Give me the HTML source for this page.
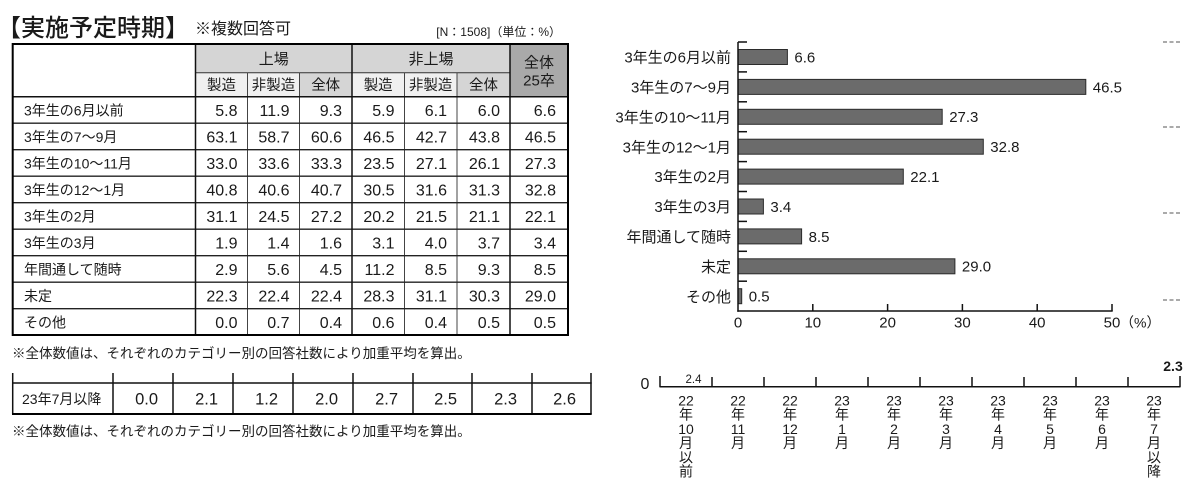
<!DOCTYPE html>
<html><head><meta charset="utf-8">
<style>
html,body{margin:0;padding:0;background:#fff;width:1200px;height:499px;overflow:hidden}
svg{display:block}
text{font-family:"Liberation Sans","Noto Sans CJK JP",sans-serif;fill:#1a1a1a}
.n{font-size:16px;text-anchor:end}
.l{font-size:14px}
.h{font-size:15px;text-anchor:middle}
.cl{font-size:15px;text-anchor:end}
.v{font-size:15px}
.t{font-size:15px;text-anchor:middle}
.vl{font-size:14px;text-anchor:middle}
</style></head>
<body>
<svg width="1200" height="499" viewBox="0 0 1200 499" xmlns="http://www.w3.org/2000/svg">
<!-- Title -->
<text x="-3" y="36" style="font-size:24px;font-weight:500">【実施予定時期】</text>
<text x="195" y="34" style="font-size:16px">※複数回答可</text>
<text x="561" y="36" style="font-size:12px;text-anchor:end">[N：1508]（単位：%）</text>

<!-- Top table fills -->
<rect x="195.5" y="44" width="314.5" height="28.7" fill="#d5d5d5"/>
<rect x="195.5" y="72.7" width="104" height="24" fill="#f0f0f0"/>
<rect x="352" y="72.7" width="105" height="24" fill="#f0f0f0"/>
<rect x="299.5" y="72.7" width="52.5" height="24" fill="#d5d5d5"/>
<rect x="457" y="72.7" width="53" height="24" fill="#d5d5d5"/>
<rect x="510" y="44" width="58" height="52.7" fill="#a9a9a9"/>

<!-- Top table lines -->
<g stroke="#333" stroke-width="1">
<line x1="195.5" y1="72.7" x2="510" y2="72.7"/>
</g>
<g stroke="#444" stroke-width="1">
<line x1="247.5" y1="72.7" x2="247.5" y2="335"/>
<line x1="299.5" y1="72.7" x2="299.5" y2="335"/>
<line x1="404.5" y1="72.7" x2="404.5" y2="335"/>
<line x1="457" y1="72.7" x2="457" y2="335"/>
</g>
<g stroke="#222" stroke-width="1.3">
<line x1="12.7" y1="123.2" x2="568" y2="123.2"/>
<line x1="12.7" y1="149.7" x2="568" y2="149.7"/>
<line x1="12.7" y1="176.2" x2="568" y2="176.2"/>
<line x1="12.7" y1="202.7" x2="568" y2="202.7"/>
<line x1="12.7" y1="229.2" x2="568" y2="229.2"/>
<line x1="12.7" y1="255.7" x2="568" y2="255.7"/>
<line x1="12.7" y1="282.2" x2="568" y2="282.2"/>
<line x1="12.7" y1="308.7" x2="568" y2="308.7"/>
</g>
<g stroke="#111" stroke-width="1.5">
<line x1="12.7" y1="96.7" x2="568" y2="96.7"/>
<line x1="195.5" y1="44" x2="195.5" y2="335"/>
<line x1="352" y1="44" x2="352" y2="335"/>
<line x1="510" y1="44" x2="510" y2="335"/>
</g>
<rect x="12.7" y="44" width="555.3" height="291" fill="none" stroke="#000" stroke-width="2"/>

<!-- Header text -->
<text class="h" x="273.8" y="64">上場</text>
<text class="h" x="431" y="64">非上場</text>
<text class="h" x="221.5" y="90.2" style="font-size:14.5px">製造</text>
<text class="h" x="273.5" y="90.2" style="font-size:14.5px">非製造</text>
<text class="h" x="325.7" y="90.2" style="font-size:14.5px">全体</text>
<text class="h" x="378.2" y="90.2" style="font-size:14.5px">製造</text>
<text class="h" x="430.7" y="90.2" style="font-size:14.5px">非製造</text>
<text class="h" x="483.5" y="90.2" style="font-size:14.5px">全体</text>
<text class="h" x="539" y="67.5">全体</text>
<text class="h" x="539" y="85.5">25卒</text>

<!-- Data rows -->
<g>
<text class="l" x="24" y="115.3">3年生の6月以前</text>
<text class="n" x="237.5" y="115.8">5.8</text><text class="n" x="289.5" y="115.8">11.9</text><text class="n" x="342" y="115.8">9.3</text><text class="n" x="394.5" y="115.8">5.9</text><text class="n" x="447" y="115.8">6.1</text><text class="n" x="500" y="115.8">6.0</text><text class="n" x="556" y="115.8">6.6</text>

<text class="l" x="24" y="141.8">3年生の7～9月</text>
<text class="n" x="237.5" y="142.3">63.1</text><text class="n" x="289.5" y="142.3">58.7</text><text class="n" x="342" y="142.3">60.6</text><text class="n" x="394.5" y="142.3">46.5</text><text class="n" x="447" y="142.3">42.7</text><text class="n" x="500" y="142.3">43.8</text><text class="n" x="556" y="142.3">46.5</text>

<text class="l" x="24" y="168.3">3年生の10～11月</text>
<text class="n" x="237.5" y="168.8">33.0</text><text class="n" x="289.5" y="168.8">33.6</text><text class="n" x="342" y="168.8">33.3</text><text class="n" x="394.5" y="168.8">23.5</text><text class="n" x="447" y="168.8">27.1</text><text class="n" x="500" y="168.8">26.1</text><text class="n" x="556" y="168.8">27.3</text>

<text class="l" x="24" y="194.8">3年生の12～1月</text>
<text class="n" x="237.5" y="195.3">40.8</text><text class="n" x="289.5" y="195.3">40.6</text><text class="n" x="342" y="195.3">40.7</text><text class="n" x="394.5" y="195.3">30.5</text><text class="n" x="447" y="195.3">31.6</text><text class="n" x="500" y="195.3">31.3</text><text class="n" x="556" y="195.3">32.8</text>

<text class="l" x="24" y="221.3">3年生の2月</text>
<text class="n" x="237.5" y="221.8">31.1</text><text class="n" x="289.5" y="221.8">24.5</text><text class="n" x="342" y="221.8">27.2</text><text class="n" x="394.5" y="221.8">20.2</text><text class="n" x="447" y="221.8">21.5</text><text class="n" x="500" y="221.8">21.1</text><text class="n" x="556" y="221.8">22.1</text>

<text class="l" x="24" y="247.8">3年生の3月</text>
<text class="n" x="237.5" y="248.3">1.9</text><text class="n" x="289.5" y="248.3">1.4</text><text class="n" x="342" y="248.3">1.6</text><text class="n" x="394.5" y="248.3">3.1</text><text class="n" x="447" y="248.3">4.0</text><text class="n" x="500" y="248.3">3.7</text><text class="n" x="556" y="248.3">3.4</text>

<text class="l" x="24" y="274.3">年間通して随時</text>
<text class="n" x="237.5" y="274.8">2.9</text><text class="n" x="289.5" y="274.8">5.6</text><text class="n" x="342" y="274.8">4.5</text><text class="n" x="394.5" y="274.8">11.2</text><text class="n" x="447" y="274.8">8.5</text><text class="n" x="500" y="274.8">9.3</text><text class="n" x="556" y="274.8">8.5</text>

<text class="l" x="24" y="300.8">未定</text>
<text class="n" x="237.5" y="301.3">22.3</text><text class="n" x="289.5" y="301.3">22.4</text><text class="n" x="342" y="301.3">22.4</text><text class="n" x="394.5" y="301.3">28.3</text><text class="n" x="447" y="301.3">31.1</text><text class="n" x="500" y="301.3">30.3</text><text class="n" x="556" y="301.3">29.0</text>

<text class="l" x="24" y="327.3">その他</text>
<text class="n" x="237.5" y="327.8">0.0</text><text class="n" x="289.5" y="327.8">0.7</text><text class="n" x="342" y="327.8">0.4</text><text class="n" x="394.5" y="327.8">0.6</text><text class="n" x="447" y="327.8">0.4</text><text class="n" x="500" y="327.8">0.5</text><text class="n" x="556" y="327.8">0.5</text>
</g>

<text x="12" y="358" style="font-size:13.5px">※全体数値は、それぞれのカテゴリー別の回答社数により加重平均を算出。</text>

<!-- Bottom table -->
<g stroke="#111" stroke-width="1.5">
<line x1="12.7" y1="373" x2="12.7" y2="414"/>
<line x1="113" y1="373" x2="113" y2="414"/>
<line x1="173" y1="373" x2="173" y2="414"/>
<line x1="233" y1="373" x2="233" y2="414"/>
<line x1="293" y1="373" x2="293" y2="414"/>
<line x1="353" y1="373" x2="353" y2="414"/>
<line x1="413" y1="373" x2="413" y2="414"/>
<line x1="472" y1="373" x2="472" y2="414"/>
<line x1="532" y1="373" x2="532" y2="414"/>
<line x1="591" y1="373" x2="591" y2="414"/>
<line x1="12" y1="383" x2="591.7" y2="383"/>
</g>
<line x1="12" y1="414" x2="591.7" y2="414" stroke="#000" stroke-width="2"/>
<text class="l" x="22" y="403.8">23年7月以降</text>
<g style="font-size:16.5px;text-anchor:end">
<text x="158" y="404.5">0.0</text><text x="218" y="404.5">2.1</text><text x="278" y="404.5">1.2</text><text x="338" y="404.5">2.0</text><text x="398" y="404.5">2.7</text><text x="457" y="404.5">2.5</text><text x="517" y="404.5">2.3</text><text x="576" y="404.5">2.6</text>
</g>
<text x="12" y="436" style="font-size:13.5px">※全体数値は、それぞれのカテゴリー別の回答社数により加重平均を算出。</text>

<!-- Bar chart -->
<g fill="#6b6b6b" stroke="#2b2b2b" stroke-width="1">
<rect x="738" y="49.5" width="49.4" height="15"/>
<rect x="738" y="79.4" width="347.8" height="15"/>
<rect x="738" y="109.3" width="204.2" height="15"/>
<rect x="738" y="139.2" width="245.3" height="15"/>
<rect x="738" y="169.1" width="165.3" height="15"/>
<rect x="738" y="199" width="25.4" height="15"/>
<rect x="738" y="228.9" width="63.6" height="15"/>
<rect x="738" y="258.8" width="216.9" height="15"/>
<rect x="738" y="288.7" width="3.7" height="15"/>
</g>
<g stroke="#111" stroke-width="1.5">
<line x1="738" y1="42" x2="738" y2="311.7"/>
<line x1="737.3" y1="311" x2="1112.7" y2="311"/>
<line x1="738" y1="42" x2="747" y2="42"/>
<line x1="738" y1="71.9" x2="747" y2="71.9"/>
<line x1="738" y1="101.8" x2="747" y2="101.8"/>
<line x1="738" y1="131.7" x2="747" y2="131.7"/>
<line x1="738" y1="161.6" x2="747" y2="161.6"/>
<line x1="738" y1="191.5" x2="747" y2="191.5"/>
<line x1="738" y1="221.4" x2="747" y2="221.4"/>
<line x1="738" y1="251.3" x2="747" y2="251.3"/>
<line x1="738" y1="281.2" x2="747" y2="281.2"/>
<line x1="812.8" y1="304" x2="812.8" y2="311"/>
<line x1="887.6" y1="304" x2="887.6" y2="311"/>
<line x1="962.4" y1="304" x2="962.4" y2="311"/>
<line x1="1037.2" y1="304" x2="1037.2" y2="311"/>
<line x1="1112" y1="304" x2="1112" y2="311"/>
</g>
<text class="cl" x="731" y="62.6">3年生の6月以前</text>
<text class="cl" x="731" y="92.5">3年生の7～9月</text>
<text class="cl" x="731" y="122.4">3年生の10～11月</text>
<text class="cl" x="731" y="152.3">3年生の12～1月</text>
<text class="cl" x="731" y="182.2">3年生の2月</text>
<text class="cl" x="731" y="212.1">3年生の3月</text>
<text class="cl" x="731" y="242">年間通して随時</text>
<text class="cl" x="731" y="271.9">未定</text>
<text class="cl" x="731" y="301.8">その他</text>

<text class="v" x="794.4" y="62.4">6.6</text>
<text class="v" x="1092.8" y="92.3">46.5</text>
<text class="v" x="949.2" y="122.2">27.3</text>
<text class="v" x="990.3" y="152.1">32.8</text>
<text class="v" x="910.3" y="182">22.1</text>
<text class="v" x="770.4" y="211.9">3.4</text>
<text class="v" x="808.6" y="241.8">8.5</text>
<text class="v" x="961.9" y="271.7">29.0</text>
<text class="v" x="748.7" y="301.6">0.5</text>

<text class="t" x="738" y="327.5">0</text>
<text class="t" x="812.8" y="327.5">10</text>
<text class="t" x="887.6" y="327.5">20</text>
<text class="t" x="962.4" y="327.5">30</text>
<text class="t" x="1037.2" y="327.5">40</text>
<text class="t" x="1112" y="327.5">50</text>
<text x="1120" y="327.5" style="font-size:14px">（%）</text>

<!-- right dashes -->
<g stroke="#555" stroke-width="1" stroke-dasharray="4 2.5">
<line x1="1163" y1="42" x2="1181" y2="42"/>
<line x1="1163" y1="127" x2="1181" y2="127"/>
<line x1="1163" y1="213" x2="1181" y2="213"/>
<line x1="1163" y1="300" x2="1181" y2="300"/>
</g>

<!-- Bottom timeline -->
<text x="645" y="389" style="font-size:16px;text-anchor:middle">0</text>
<g stroke="#111" stroke-width="1.5">
<line x1="659.5" y1="386.7" x2="1180.5" y2="386.7"/>
<line x1="660" y1="376" x2="660" y2="387"/>
<line x1="712" y1="377" x2="712" y2="387"/>
<line x1="764" y1="377" x2="764" y2="387"/>
<line x1="816" y1="377" x2="816" y2="387"/>
<line x1="868" y1="377" x2="868" y2="387"/>
<line x1="920" y1="377" x2="920" y2="387"/>
<line x1="972" y1="377" x2="972" y2="387"/>
<line x1="1024" y1="377" x2="1024" y2="387"/>
<line x1="1076" y1="377" x2="1076" y2="387"/>
<line x1="1128" y1="377" x2="1128" y2="387"/>
<line x1="1180" y1="376" x2="1180" y2="387"/>
</g>
<text x="693.5" y="383" style="font-size:11.5px;text-anchor:middle">2.4</text>
<text x="1173" y="371" style="font-size:14px;font-weight:bold;text-anchor:middle">2.3</text>

<g>
<text class="vl" x="686" y="405.5">22</text><text class="vl" x="686" y="419.7">年</text><text class="vl" x="686" y="433.9">10</text><text class="vl" x="686" y="448.1">月</text><text class="vl" x="686" y="462.3">以</text><text class="vl" x="686" y="476.5">前</text>
<text class="vl" x="738" y="405.5">22</text><text class="vl" x="738" y="419.7">年</text><text class="vl" x="738" y="433.9">11</text><text class="vl" x="738" y="448.1">月</text>
<text class="vl" x="790" y="405.5">22</text><text class="vl" x="790" y="419.7">年</text><text class="vl" x="790" y="433.9">12</text><text class="vl" x="790" y="448.1">月</text>
<text class="vl" x="842" y="405.5">23</text><text class="vl" x="842" y="419.7">年</text><text class="vl" x="842" y="433.9">1</text><text class="vl" x="842" y="448.1">月</text>
<text class="vl" x="894" y="405.5">23</text><text class="vl" x="894" y="419.7">年</text><text class="vl" x="894" y="433.9">2</text><text class="vl" x="894" y="448.1">月</text>
<text class="vl" x="946" y="405.5">23</text><text class="vl" x="946" y="419.7">年</text><text class="vl" x="946" y="433.9">3</text><text class="vl" x="946" y="448.1">月</text>
<text class="vl" x="998" y="405.5">23</text><text class="vl" x="998" y="419.7">年</text><text class="vl" x="998" y="433.9">4</text><text class="vl" x="998" y="448.1">月</text>
<text class="vl" x="1050" y="405.5">23</text><text class="vl" x="1050" y="419.7">年</text><text class="vl" x="1050" y="433.9">5</text><text class="vl" x="1050" y="448.1">月</text>
<text class="vl" x="1102" y="405.5">23</text><text class="vl" x="1102" y="419.7">年</text><text class="vl" x="1102" y="433.9">6</text><text class="vl" x="1102" y="448.1">月</text>
<text class="vl" x="1154" y="405.5">23</text><text class="vl" x="1154" y="419.7">年</text><text class="vl" x="1154" y="433.9">7</text><text class="vl" x="1154" y="448.1">月</text><text class="vl" x="1154" y="462.3">以</text><text class="vl" x="1154" y="476.5">降</text>
</g>
</svg>
</body></html>
